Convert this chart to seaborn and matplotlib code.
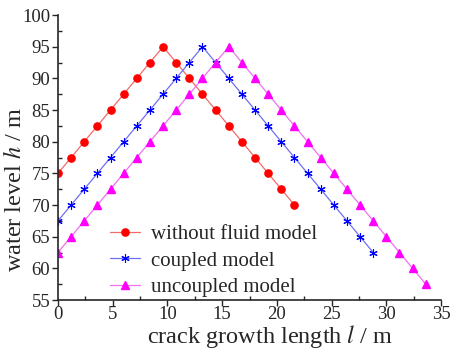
import matplotlib
matplotlib.use('Agg')
import matplotlib.pyplot as plt
import seaborn as sns
import pandas as pd

# данные
x_nofluid = [0, 1.2, 2.4, 3.6, 4.8, 6.0, 7.2, 8.4, 9.6, 10.8, 12.0, 13.2, 14.4,
             15.6, 16.8, 18.0, 19.2, 20.4, 21.6]
h_nofluid = [75, 77.5, 80, 82.5, 85, 87.5, 90, 92.5, 95, 92.5, 90, 87.5, 85,
             82.5, 80, 77.5, 75, 72.5, 70]

x_coupled = [0, 1.2, 2.4, 3.6, 4.8, 6.0, 7.2, 8.4, 9.6, 10.8, 12.0, 13.2, 14.4,
             15.6, 16.8, 18.0, 19.2, 20.4, 21.6, 22.8, 24.0, 25.2, 26.4, 27.6, 28.8]
h_coupled = [67.5, 70, 72.5, 75, 77.5, 80, 82.5, 85, 87.5, 90, 92.5, 95, 92.5,
             90, 87.5, 85, 82.5, 80, 77.5, 75, 72.5, 70, 67.5, 65, 62.5]

x_uncoupled = [0, 1.2, 2.4, 3.6, 4.8, 6.0, 7.2, 8.4, 9.6, 10.8, 12.0, 13.2, 14.4,
               15.6, 16.8, 18.0, 19.2, 20.4, 21.6, 22.8, 24.0, 25.2, 26.4, 27.6,
               28.8, 30.0, 31.2, 32.4, 33.6]
h_uncoupled = [62.5, 65, 67.5, 70, 72.5, 75, 77.5, 80, 82.5, 85, 87.5, 90, 92.5,
               95, 92.5, 90, 87.5, 85, 82.5, 80, 77.5, 75, 72.5, 70, 67.5, 65,
               62.5, 60, 57.5]

labels = ['without fluid model', 'coupled model', 'uncoupled model']

sns.set_style('ticks')
plt.rcParams['font.family'] = ['Liberation Serif', 'DejaVu Serif']
plt.rcParams['mathtext.fontset'] = 'stix'

fig = plt.figure(figsize=(4.51, 3.49), dpi=100)
ax = fig.add_axes([0.1286, 0.1404, 0.8494, 0.8166])

series = [
    (x_nofluid, h_nofluid, labels[0], '#f26a6a', 'red', 'o', 5.2, 1.0),
    (x_coupled, h_coupled, labels[1], '#6f6ff5', 'blue', (6, 2, 0), 6.0, 0.8),
    (x_uncoupled, h_uncoupled, labels[2], '#f070f0', 'magenta', '^', 6.0, 1.0),
]
for xs, ys, lab, lc, mc, mk, ms, mew in series:
    df = pd.DataFrame({'l': xs, 'h': ys})
    sns.lineplot(data=df, x='l', y='h', ax=ax, color=lc, linewidth=0.9,
                 marker=mk, markersize=ms, markerfacecolor=mc,
                 markeredgecolor=mc, markeredgewidth=mew, label=lab)

ax.set_xlim(0, 35)
ax.set_ylim(55, 100)
ax.set_xticks(range(0, 36, 5))
ax.set_yticks(range(55, 101, 5))
ax.set_xticks([i + 2.5 for i in range(0, 35, 5)], minor=True)
ax.set_yticks([i + 2.5 for i in range(55, 100, 5)], minor=True)
ax.tick_params(axis='both', which='major', direction='out', length=4.3,
               width=1, labelsize=13.5, pad=1.2)
ax.tick_params(axis='x', which='major', pad=0.3)
ax.tick_params(axis='both', which='minor', direction='in', length=3, width=1)
for s in ['top', 'right']:
    ax.spines[s].set_visible(False)
for s in ['left', 'bottom']:
    ax.spines[s].set_linewidth(1.2)

ax.set_xlabel('crack growth length $\\it{l}$ / m', fontsize=17.5)
ax.xaxis.set_label_coords(0.553, -0.15)
ax.xaxis.label.set_va('baseline')
ax.set_ylabel('water level $\\it{h}$ / m', fontsize=17.5)
ax.yaxis.set_label_coords(-0.112, 0.386)
ax.yaxis.label.set_va('center')

ax.legend(loc='upper left', bbox_to_anchor=(0.136, 0.265), frameon=False,
          fontsize=15, handlelength=1.45, handletextpad=0.5,
          labelspacing=0.33, borderaxespad=0, borderpad=0)

plt.savefig('out.png', dpi=100)
